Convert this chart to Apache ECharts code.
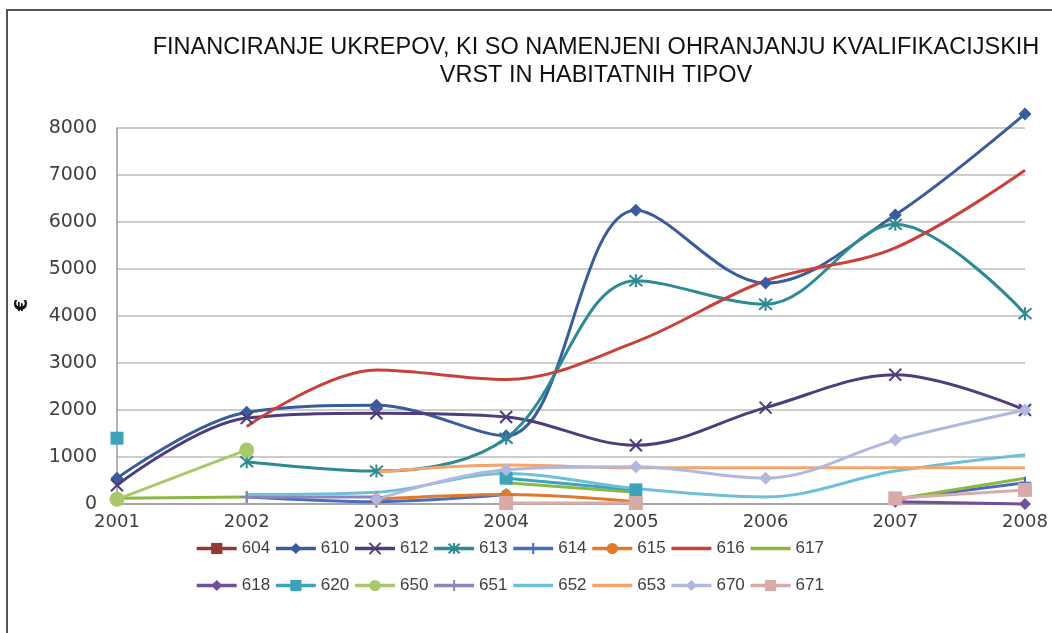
<!DOCTYPE html>
<html>
<head>
<meta charset="utf-8">
<title>Financiranje ukrepov</title>
<script src="https://cdn.jsdelivr.net/npm/echarts@6/dist/echarts.min.js"></script>
<style>
  html, body { margin: 0; padding: 0; background: #fff; }
  #main { width: 1052px; height: 633px; }
</style>
</head>
<body>
<div id="main"></div>
<script>
// leta na osi x
var years = ['2001', '2002', '2003', '2004', '2005', '2006', '2007', '2008'];

// vrednosti po postavkah (EUR), null = ni podatka
var s604 = [null, null, null, null, null, null, null, null];
var s610 = [550, 1950, 2100, 1450, 6250, 4700, 6150, 8300];
var s612 = [400, 1830, 1930, 1850, 1250, 2050, 2750, 2000];
var s613 = [null, 900, 700, 1400, 4750, 4250, 5950, 4050];
var s614 = [null, 150, 50, 200, null, null, 100, 450];
var s615 = [null, null, 100, 200, 50, null, null, null];
var s616 = [null, 1650, 2850, 2650, 3450, 4750, 5450, 7100];
var s617 = [120, 150, null, 450, 250, null, 100, 550];
var s618 = [null, null, null, null, null, null, 50, 0];
var s620 = [1400, null, null, 550, 300, null, null, null];
var s650 = [100, 1150, null, null, null, null, null, null];
var s651 = [null, 150, 150, null, null, null, null, null];
var s652 = [null, 200, 250, 650, 330, 150, 700, 1050];
var s653 = [null, null, 680, 830, 770, 770, 770, 770];
var s670 = [null, null, 100, 730, 790, 550, 1360, 2000];
var s671 = [null, null, null, 20, 20, null, 120, 300];

var names = ['604', '610', '612', '613', '614', '615', '616', '617',
             '618', '620', '650', '651', '652', '653', '670', '671'];
var values = [s604, s610, s612, s613, s614, s615, s616, s617,
              s618, s620, s650, s651, s652, s653, s670, s671];

// simboli
var X = 'path://M0,0L10,10M10,0L0,10';
var STAR = 'path://M0,0L10,10M10,0L0,10M5,-1L5,11';
var PLUS = 'path://M5,0L5,10M0,5L10,5';
var NONE = 'path://M0,0L1,1'; // nevidna oznaka, da legenda kaze samo crto

var looks = {
  '604': { c: '#953735', sym: 'rect', size: 11 },
  '610': { c: '#3A5C9C', sym: 'diamond', size: 13 },
  '612': { c: '#4E3D7A', sym: X, size: 12, stroke: true },
  '613': { c: '#2C8A93', sym: STAR, size: 13, stroke: true },
  '614': { c: '#4A6CC0', sym: PLUS, size: 12, stroke: true },
  '615': { c: '#DD7A2C', sym: 'circle', size: 11 },
  '616': { c: '#C8413A', sym: NONE },
  '617': { c: '#8DB743', sym: NONE },
  '618': { c: '#70509C', sym: 'diamond', size: 12 },
  '620': { c: '#3DA3BD', sym: 'rect', size: 13 },
  '650': { c: '#A8C86A', sym: 'circle', size: 15 },
  '651': { c: '#8F86B8', sym: PLUS, size: 12, stroke: true },
  '652': { c: '#6FC0D6', sym: NONE },
  '653': { c: '#F4A46C', sym: NONE },
  '670': { c: '#B1B8DD', sym: 'diamond', size: 13 },
  '671': { c: '#D8ABA8', sym: 'rect', size: 14 }
};

var series = names.map(function (n, i) {
  var l = looks[n];
  return {
    name: n,
    type: 'line',
    data: values[i],
    smooth: 0.35,
    clip: false,
    showAllSymbol: true,
    symbol: l.sym,
    symbolSize: l.size || 4,
    lineStyle: { color: l.c, width: 3 },
    itemStyle: l.stroke
      ? { color: l.c, borderColor: l.c, borderWidth: 2 }
      : { color: l.c },
    emphasis: { disabled: true }
  };
});

var myChart = echarts.init(document.getElementById('main'));
var legendText = { fontFamily: 'Liberation Sans, sans-serif', fontSize: 17, color: '#404040' };
var legendBase = {
  left: 190,
  itemWidth: 40,
  itemHeight: 14,
  itemGap: 4,
  lineStyle: { width: 3.5 },
  textStyle: legendText
};

var option = {
  animation: false,
  graphic: [{
    type: 'rect',
    shape: { x: 7, y: 10, width: 1100, height: 700 },
    style: { fill: 'none', stroke: '#555', lineWidth: 2 },
    silent: true
  }],
  title: {
    text: 'FINANCIRANJE UKREPOV, KI SO NAMENJENI OHRANJANJU KVALIFIKACIJSKIH\nVRST IN HABITATNIH TIPOV',
    left: 591,
    top: 29,
    textAlign: 'center',
    textStyle: {
      fontFamily: 'Liberation Sans, Arial, sans-serif',
      fontSize: 23.5,
      fontWeight: 'normal',
      color: '#111',
      lineHeight: 28,
      align: 'center'
    }
  },
  legend: [
    Object.assign({ data: names.slice(0, 8), top: 535 }, legendBase),
    Object.assign({ data: names.slice(8), top: 572 }, legendBase)
  ],
  grid: { left: 117, right: 27, top: 128, bottom: 129 },
  xAxis: {
    type: 'category',
    data: years,
    boundaryGap: false,
    axisLine: { lineStyle: { color: '#999', width: 1.5 } },
    axisTick: { show: false },
    axisLabel: { fontFamily: 'DejaVu Sans', fontSize: 18, color: '#404040', margin: 9 }
  },
  yAxis: {
    type: 'value',
    min: 0,
    max: 8000,
    interval: 1000,
    name: '€',
    nameLocation: 'middle',
    nameRotate: 90,
    nameGap: 86,
    nameTextStyle: { fontFamily: 'DejaVu Sans', fontSize: 18, fontWeight: 'bold', color: '#111', padding: [0, 0, 0, 22] },
    axisLine: { show: true, lineStyle: { color: '#999', width: 1.5 } },
    axisTick: { show: false },
    axisLabel: {
      fontFamily: 'DejaVu Sans', fontSize: 19, color: '#404040', margin: 20,
      formatter: function (v) { return String(v); }
    },
    splitLine: { lineStyle: { color: '#bdbdbd', width: 1.5 } }
  },
  series: series
};

myChart.setOption(option);
window.addEventListener('resize', function () { myChart.resize(); });
</script>
</body>
</html>
